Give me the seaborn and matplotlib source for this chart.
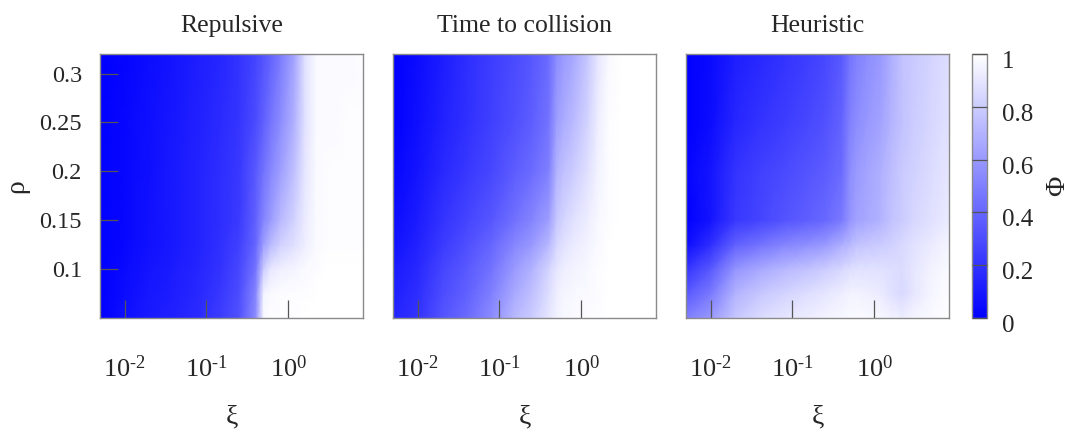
import numpy as np
import matplotlib
matplotlib.use("Agg")
import matplotlib.pyplot as plt
import matplotlib.transforms as mtransforms
import seaborn as sns

# grid of the simulations: xi (log axis) and rho
xi = [0.005, 0.01, 0.02, 0.04, 0.08, 0.15, 0.25, 0.4, 0.5, 0.6, 0.8, 1.2, 1.6, 2.2, 3.0, 5.0, 8.2]
rho = [0.05, 0.075, 0.1, 0.125, 0.15, 0.2, 0.25, 0.32]

titles = ["Repulsive", "Time to collision", "Heuristic"]

# order parameter Phi, one row per rho value (bottom to top), one column per xi
phi_repulsive = [
    [0.00, 0.06, 0.10, 0.13, 0.17, 0.24, 0.32, 0.55, 0.97, 0.99, 0.99, 0.99, 1.00, 1.00, 1.00, 1.00, 1.00],
    [0.00, 0.05, 0.09, 0.12, 0.16, 0.22, 0.30, 0.52, 0.95, 0.98, 0.99, 0.99, 0.99, 1.00, 1.00, 1.00, 1.00],
    [0.00, 0.04, 0.08, 0.11, 0.15, 0.20, 0.28, 0.45, 0.80, 0.90, 0.94, 0.96, 0.98, 0.99, 1.00, 1.00, 1.00],
    [0.00, 0.03, 0.07, 0.10, 0.14, 0.19, 0.25, 0.40, 0.62, 0.72, 0.82, 0.88, 0.93, 0.98, 0.99, 0.99, 0.99],
    [0.00, 0.03, 0.07, 0.10, 0.14, 0.18, 0.23, 0.38, 0.52, 0.60, 0.72, 0.83, 0.92, 0.98, 0.99, 0.99, 0.99],
    [0.00, 0.03, 0.06, 0.10, 0.14, 0.18, 0.22, 0.35, 0.45, 0.52, 0.62, 0.76, 0.90, 0.98, 0.99, 0.99, 0.99],
    [0.00, 0.03, 0.06, 0.09, 0.13, 0.17, 0.21, 0.30, 0.38, 0.45, 0.55, 0.70, 0.88, 0.98, 0.98, 0.99, 0.99],
    [0.00, 0.02, 0.05, 0.08, 0.12, 0.15, 0.20, 0.27, 0.33, 0.38, 0.48, 0.65, 0.88, 0.98, 0.98, 0.98, 0.99],
]

phi_ttc = [
    [0.14, 0.20, 0.33, 0.42, 0.55, 0.72, 0.80, 0.90, 0.95, 0.97, 0.98, 0.99, 0.99, 1.00, 1.00, 1.00, 1.00],
    [0.12, 0.18, 0.30, 0.38, 0.50, 0.66, 0.75, 0.87, 0.93, 0.96, 0.97, 0.98, 0.99, 1.00, 1.00, 1.00, 1.00],
    [0.10, 0.16, 0.27, 0.35, 0.45, 0.60, 0.70, 0.83, 0.90, 0.93, 0.95, 0.97, 0.99, 1.00, 1.00, 1.00, 1.00],
    [0.07, 0.13, 0.23, 0.31, 0.40, 0.52, 0.60, 0.72, 0.84, 0.88, 0.92, 0.95, 0.98, 1.00, 1.00, 1.00, 1.00],
    [0.05, 0.11, 0.20, 0.27, 0.34, 0.44, 0.52, 0.62, 0.78, 0.83, 0.88, 0.93, 0.97, 0.99, 1.00, 1.00, 1.00],
    [0.02, 0.08, 0.16, 0.22, 0.28, 0.36, 0.42, 0.50, 0.70, 0.75, 0.80, 0.88, 0.95, 0.99, 1.00, 1.00, 1.00],
    [0.00, 0.06, 0.13, 0.19, 0.25, 0.31, 0.37, 0.45, 0.62, 0.67, 0.73, 0.83, 0.93, 0.99, 1.00, 1.00, 1.00],
    [0.00, 0.05, 0.11, 0.18, 0.24, 0.29, 0.34, 0.42, 0.55, 0.60, 0.66, 0.78, 0.90, 0.98, 1.00, 1.00, 1.00],
]

phi_heuristic = [
    [0.50, 0.60, 0.78, 0.86, 0.90, 0.93, 0.95, 0.97, 0.98, 0.98, 0.98, 0.97, 0.95, 0.93, 0.96, 0.98, 1.00],
    [0.35, 0.48, 0.70, 0.78, 0.83, 0.87, 0.90, 0.93, 0.95, 0.95, 0.94, 0.92, 0.88, 0.85, 0.90, 0.96, 0.99],
    [0.20, 0.35, 0.58, 0.66, 0.72, 0.76, 0.80, 0.84, 0.87, 0.88, 0.88, 0.88, 0.87, 0.86, 0.90, 0.95, 0.98],
    [0.05, 0.18, 0.38, 0.45, 0.52, 0.56, 0.60, 0.68, 0.72, 0.76, 0.78, 0.80, 0.82, 0.85, 0.88, 0.92, 0.96],
    [0.00, 0.08, 0.22, 0.27, 0.33, 0.37, 0.41, 0.48, 0.58, 0.63, 0.66, 0.70, 0.76, 0.80, 0.84, 0.88, 0.92],
    [0.02, 0.08, 0.20, 0.25, 0.29, 0.33, 0.36, 0.42, 0.55, 0.60, 0.64, 0.69, 0.74, 0.79, 0.82, 0.86, 0.90],
    [0.00, 0.05, 0.15, 0.20, 0.24, 0.28, 0.32, 0.39, 0.50, 0.55, 0.59, 0.64, 0.70, 0.76, 0.80, 0.84, 0.88],
    [0.00, 0.04, 0.12, 0.16, 0.20, 0.24, 0.28, 0.35, 0.45, 0.50, 0.55, 0.60, 0.68, 0.76, 0.79, 0.83, 0.87],
]

xticks = [0.01, 0.1, 1.0]
xticklabels = [r"$10^{\text{-}2}$", r"$10^{\text{-}1}$", r"$10^{0}$"]
yticks = [0.1, 0.15, 0.2, 0.25, 0.3]
yticklabels = ["0.1", "0.15", "0.2", "0.25", "0.3"]
cticks = [0, 0.2, 0.4, 0.6, 0.8, 1]
cticklabels = ["0", "0.2", "0.4", "0.6", "0.8", "1"]

sns.set_theme(style="white")
plt.rcParams['font.family'] = ['Liberation Serif', 'DejaVu Serif']
plt.rcParams['mathtext.fontset'] = 'custom'
plt.rcParams['mathtext.rm'] = 'Liberation Serif'
plt.rcParams['mathtext.it'] = 'Liberation Serif:italic'

cmap = sns.blend_palette(["#0000ff", "#ffffff"], as_cmap=True)
spine_col = "#8a8a8a"
tick_col = "#555555"

W, H = 1068, 433
fig = plt.figure(figsize=(W / 100, H / 100), dpi=100)

X, Y = np.meshgrid(xi, rho)
panels = [phi_repulsive, phi_ttc, phi_heuristic]
lefts = [100, 393, 686]

for i, (phi, title, left) in enumerate(zip(panels, titles, lefts)):
    ax = fig.add_axes([left / W, 115 / H, 263 / W, 264 / H])
    mesh = ax.pcolormesh(X, Y, np.array(phi), shading="gouraud", cmap=cmap, vmin=0, vmax=1)
    ax.set_axisbelow(False)
    ax.set_xscale("log")
    ax.set_xlim(xi[0], xi[-1])
    ax.set_ylim(rho[0], rho[-1])
    ax.set_xticks(xticks)
    ax.set_xticklabels(xticklabels)
    ax.minorticks_off()
    ax.tick_params(axis="x", direction="in", length=13, width=0.9, color=tick_col,
                   pad=27, labelsize=19, bottom=True, top=False)
    if i == 0:
        ax.set_yticks(yticks)
        ax.set_yticklabels(yticklabels)
        ax.tick_params(axis="y", direction="in", length=13, width=0.9, color=tick_col,
                       pad=13, labelsize=17.5, left=True, right=False)
        ax.set_ylabel("ρ", fontsize=20, labelpad=7)
    else:
        ax.set_yticks([])
        ax.tick_params(axis="y", left=False, labelleft=False)
    ax.set_xlabel("ξ", fontsize=20, labelpad=16)
    ax.set_title(title, fontsize=18.5, pad=16)
    for sp in ax.spines.values():
        sp.set_color(spine_col)
        sp.set_linewidth(1.0)
        sp.set_zorder(3)

cax = fig.add_axes([972 / W, 115 / H, 15 / W, 264 / H])
cb = fig.colorbar(mesh, cax=cax, ticks=cticks)
cb.ax.set_yticklabels(cticklabels)
cb.ax.tick_params(direction="in", length=10.8, width=0.9, color=tick_col,
                  pad=11, labelsize=18)
cb.ax.set_axisbelow(False)
shift = mtransforms.ScaledTranslation(0, -4 / 72, fig.dpi_scale_trans)
for lab in cb.ax.get_yticklabels():
    lab.set_transform(lab.get_transform() + shift)
cb.outline.set_edgecolor(spine_col)
cb.outline.set_linewidth(1.0)
cb.set_label("Φ", fontsize=20, rotation=90, labelpad=8)

fig.savefig("out.png", dpi=100)
